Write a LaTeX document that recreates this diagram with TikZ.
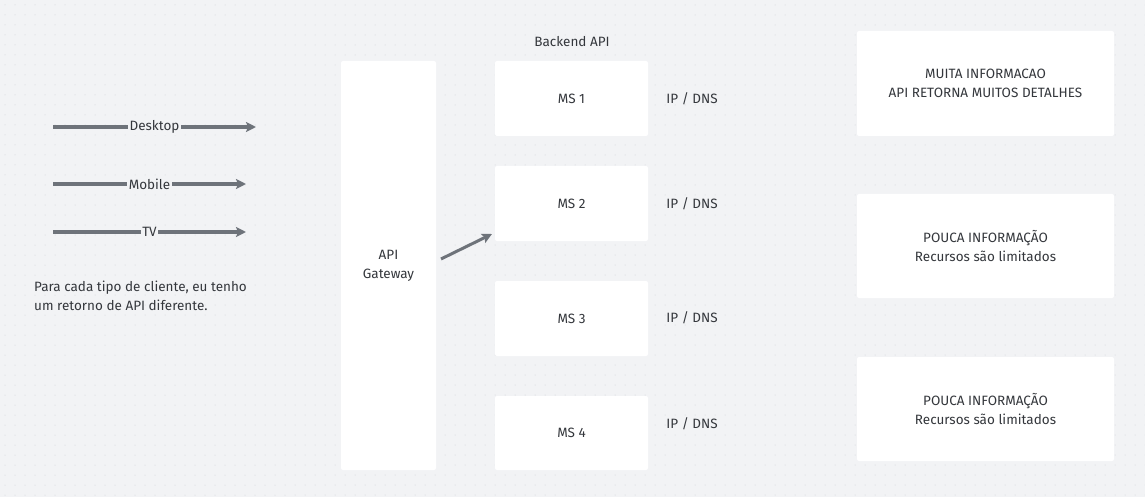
\documentclass[tikz,border=0pt]{standalone}
\usepackage{fontspec}
\setmainfont{Fira Sans}
\usetikzlibrary{arrows.meta}
\definecolor{bg}{HTML}{F2F3F5}
\definecolor{dotc}{HTML}{CDD0D5}
\definecolor{txt}{HTML}{34373C}
\definecolor{arr}{HTML}{6E737A}
\tikzset{
  box/.style={draw=none, fill=white, rounded corners=2pt, minimum width=#1, inner sep=0pt, text=txt, align=center, font=\fontsize{13.5}{19}\selectfont},
  lbl/.style={text=txt, font=\fontsize{13.5}{19}\selectfont, inner sep=0pt},
  client/.style={draw=arr, line width=3.2pt, -{Stealth[length=10pt,width=10pt,inset=2pt]}},
  tag/.style={fill=bg, text=txt, inner sep=1.5pt, font=\fontsize{13.5}{15}\selectfont},
}
\begin{document}
\begin{tikzpicture}[x=1pt,y=-1pt]
\fill[bg] (0,0) rectangle (1145,497);
\useasboundingbox (0,0) rectangle (1145,497);
\foreach \i in {0,...,114} {
  \foreach \j in {0,...,49} {
    \fill[dotc] (5+\i*10, 5+\j*10) circle (0.5pt);
  }
}
% API gateway
\node[box=95pt, minimum height=409pt] (gw) at (388.5,265.5) {API\\Gateway};
% microservices
\node[box=153pt, minimum height=75pt] (ms1) at (571.5,98.5) {MS 1};
\node[box=153pt, minimum height=75pt] (ms2) at (571.5,203.5) {MS 2};
\node[box=153pt, minimum height=75pt] (ms3) at (571.5,318.5) {MS 3};
\node[box=153pt, minimum height=74pt] (ms4) at (571.5,433) {MS 4};
\node[lbl] (backend) at (572,42) {Backend API};
\node[lbl] (ip1) at (692,99) {IP / DNS};
\node[lbl] (ip2) at (692,204) {IP / DNS};
\node[lbl] (ip3) at (692,318) {IP / DNS};
\node[lbl] (ip4) at (692,424) {IP / DNS};
% right boxes
\node[box=257pt, minimum height=105pt] (r1) at (985.5,83.5) {MUITA INFORMACAO\\API RETORNA MUITOS DETALHES};
\node[box=257pt, minimum height=104pt] (r2) at (985.5,246) {POUCA INFORMAÇÃO\\Recursos são limitados};
\node[box=257pt, minimum height=104pt] (r3) at (985.5,409) {POUCA INFORMAÇÃO\\Recursos são limitados};
% clients
\coordinate (d0) at (53,127); \coordinate (d1) at (256,127);
\coordinate (m0) at (53,184); \coordinate (m1) at (246,184);
\coordinate (t0) at (53,232); \coordinate (t1) at (246,232);
\draw[client] (d0) -- node[tag] (desk) {Desktop} (d1);
\draw[client] (m0) -- node[tag] (mob) {Mobile} (m1);
\draw[client] (t0) -- node[tag] (tv) {TV} (t1);
% gateway arrow
\coordinate (g0) at (441,259); \coordinate (g1) at (492,234);
\draw[client, line width=3pt] (g0) -- (g1);
% note
\node[lbl, anchor=north west, align=left, font=\fontsize{13.5}{19}\selectfont] (note) at (34,281) {Para cada tipo de cliente, eu tenho\\um retorno de API diferente.};
\end{tikzpicture}
\end{document}
